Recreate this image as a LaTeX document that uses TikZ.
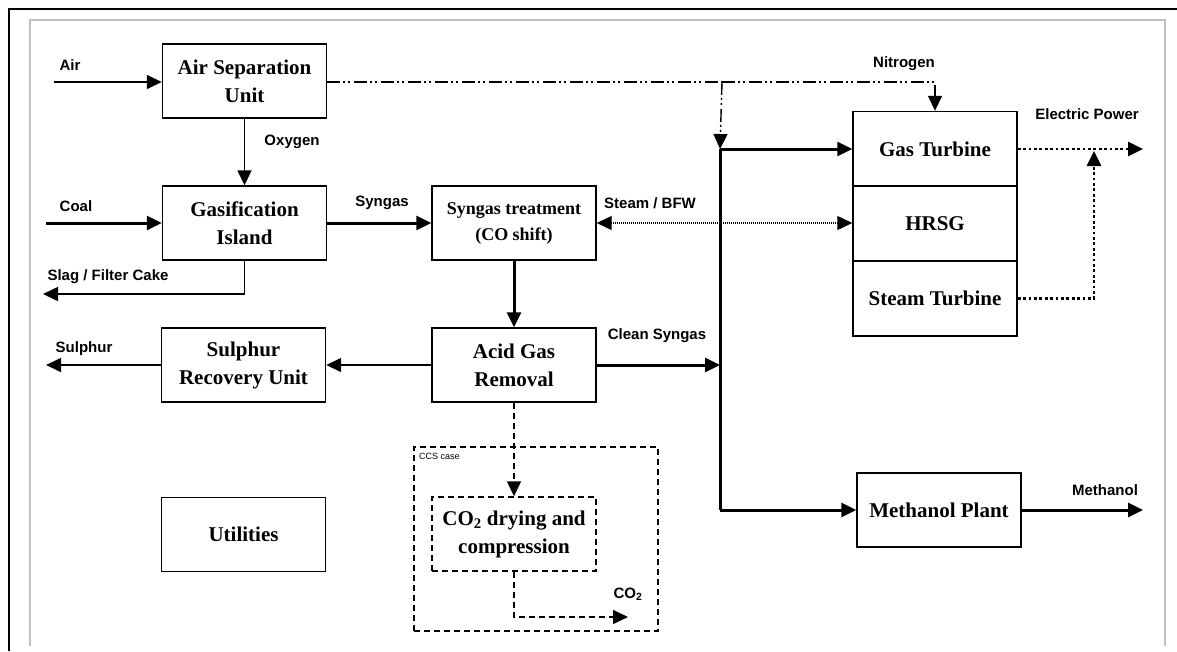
\documentclass[tikz,border=0pt]{standalone}
\usepackage{fontspec}
\setmainfont{Liberation Serif}
\setsansfont{Liberation Sans}
\usetikzlibrary{arrows.meta,positioning}
\tikzstyle{block}=[draw,line width=1.4pt,minimum width=164pt,minimum height=74pt,inner sep=0pt,align=center,font=\fontsize{21}{28}\selectfont\bfseries]
\tikzstyle{lbl}=[inner sep=0pt,font=\fontsize{15}{17}\selectfont\sffamily\bfseries]
\tikzstyle{tip}=[-{Triangle[length=15pt,width=14pt]}]
\tikzstyle{thinline}=[black,line width=1.5pt]
\tikzstyle{thickline}=[black,line width=3pt]
\tikzstyle{dashdot}=[black,line width=1.4pt,dash pattern=on 13pt off 3pt on 2pt off 3pt on 2pt off 4pt]
\tikzstyle{dashline}=[black,line width=1.4pt,dash pattern=on 6pt off 4pt]
\tikzstyle{dotline}=[black,line width=1.2pt,dash pattern=on 1pt off 1pt]
\tikzstyle{powerline}=[black,line width=2.8pt,dash pattern=on 2.8pt off 2.6pt]

\begin{document}
\begin{tikzpicture}[x=1pt,y=-1pt]
	\useasboundingbox (0,0) rectangle (1177,651);

	%frame
	\draw[black,line width=1.8pt] (9,651) -- (9,9) -- (1177,9);
	\draw[black!25,line width=1.2pt] (30,646) -- (30,20) -- (1165,20) -- (1165,646);

	%units
	\node[block] (asu) at (244.5,81) {Air Separation\\Unit};
	\node[block] (gasif) at (244.5,223) {Gasification\\Island};
	\node[block,font=\fontsize{18}{26}\selectfont\bfseries] (syn) at (514,223) {Syngas treatment\\(CO shift)};
	\node[block] (agr) at (514,365) {Acid Gas\\Removal};
	\node[block] (sru) at (243.5,365) {Sulphur\\Recovery Unit};
	\node[block] (util) at (243.5,534.5) {Utilities};
	\node[block,minimum width=164pt,minimum height=75pt] (gt) at (935,149) {Gas Turbine};
	\node[block,minimum height=75pt] (hrsg) at (935,223.5) {HRSG};
	\node[block,minimum height=75pt] (st) at (935,298.5) {Steam Turbine};
	\node[block] (meoh) at (939,510) {Methanol Plant};

	%ccs case
	\node[draw,dashline,minimum width=244pt,minimum height=184pt,inner sep=0pt] (ccs) at (536,539) {};
	\node[anchor=west,inner sep=0pt,font=\fontsize{9}{10}\selectfont\sffamily] (ccslbl) at (419,456) {CCS case};
	\node[block,dashline] (co2) at (514,534) {CO\textsubscript{2} drying and\\compression};

	%free ends
	\coordinate (airin) at (54,82);
	\coordinate (coalin) at (46,223);
	\coordinate (slagout) at (43,294);
	\coordinate (sulout) at (46,365);
	\coordinate (n2split) at (722,82);
	\coordinate (hdtop) at (720,149);
	\coordinate (hdbot) at (720,510);
	\coordinate (powout) at (1143,149);
	\coordinate (powjoin) at (1094,151);
	\coordinate (meohout) at (1143,510);
	\coordinate (co2out) at (628,617);

	%streams
	\draw[thinline,tip] (airin) -- (asu.west |- airin);
	\draw[thinline,tip] (asu.south) -- (gasif.north);
	\draw[thickline,tip] (coalin) -- (gasif.west);
	\draw[thinline,tip] (gasif.south) |- (slagout);
	\draw[thickline,tip] (gasif.east) -- (syn.west);
	\draw[thickline,tip] (syn.south) -- (agr.north);
	\draw[thinline,tip] (agr.west) -- (sru.east);
	\draw[thinline,tip] (sru.west) -- (sulout);
	\draw[dashdot] (asu.east |- airin) -- (n2split);
	\draw[dashdot,tip] (n2split) -| (gt.north);
	\draw[dashdot,tip] (n2split) -- (hdtop);
	\draw[thickline] (hdtop) -- (hdbot);
	\draw[thickline,tip] (hdtop) -- (gt.west);
	\draw[thickline,tip] (agr.east) -- (agr.east -| hdtop);
	\draw[thickline,tip] (hdbot) -- (meoh.west);
	\draw[thickline,tip] (meoh.east) -- (meohout);
	\draw[dotline,{Triangle[length=15pt,width=14pt]}-{Triangle[length=15pt,width=14pt]}] (syn.east) -- (syn.east -| hrsg.west);
	\draw[powerline,tip] (gt.east) -- (powout);
	\draw[powerline,tip] (st.east) -| (powjoin);
	\draw[dashline,tip] (agr.south) -- (co2.north);
	\draw[dashline,tip] (co2.south) |- (co2out);

	%stream labels
	\node[lbl] (airlbl) at (70,65) {Air};
	\node[lbl] (oxlbl) at (292,142) {Oxygen};
	\node[lbl] (coallbl) at (76,206) {Coal};
	\node[lbl] (slaglbl) at (108,277) {Slag / Filter Cake};
	\node[lbl] (synlbl) at (382,203) {Syngas};
	\node[lbl] (n2lbl) at (904,64) {Nitrogen};
	\node[lbl] (bfwlbl) at (650,203) {Steam / BFW};
	\node[lbl] (powlbl) at (1087,114) {Electric Power};
	\node[lbl] (cleanlbl) at (657,336) {Clean Syngas};
	\node[lbl] (sullbl) at (84,349) {Sulphur};
	\node[lbl] (meohlbl) at (1105,490) {Methanol};
	\node[lbl] (co2lbl) at (628,594) {CO\textsubscript{2}};
\end{tikzpicture}
\end{document}
